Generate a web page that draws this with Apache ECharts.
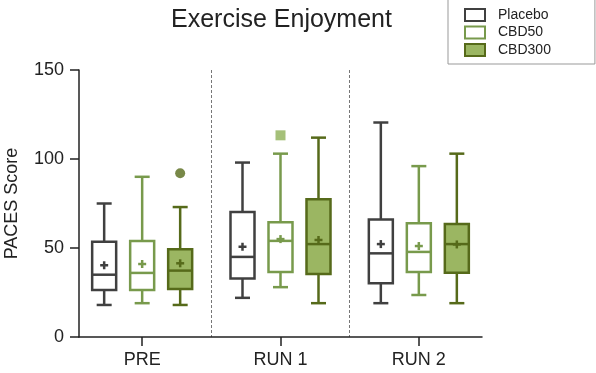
<!DOCTYPE html>
<html>
<head>
<meta charset="utf-8">
<script src="https://cdn.jsdelivr.net/npm/echarts@6/dist/echarts.min.js"></script>
<style>html,body{margin:0;padding:0;background:#fff}#c{width:596px;height:373px}</style>
</head>
<body>
<div id="c"></div>
<script>
// ---- data ----
const categories = ['PRE', 'RUN 1', 'RUN 2'];
const yTicks = [0, 50, 100, 150];
// [min, Q1, median, Q3, max] per category
const placeboBox = [[18, 26.4, 35, 53.5, 75], [22, 32.8, 45, 70.2, 98], [19, 30.2, 47, 66, 120.5]];
const cbd50Box   = [[19, 26.4, 36, 54, 90],   [28, 36.5, 54, 64.4, 103], [23.6, 36.5, 47.8, 63.9, 96]];
const cbd300Box  = [[18, 27, 37.3, 49.3, 73], [19, 35.4, 52.2, 77.4, 112], [19, 36.1, 52.2, 63.5, 103]];
const placeboMean = [40.3, 50.7, 52.2];
const cbd50Mean   = [41, 55, 51.1];
const cbd300Mean  = [41.4, 54.5, 52];
const cbd50Outliers  = [[1, 113.3]];
const cbd300Outliers = [[0, 92]];

const FONT = "'Liberation Sans', Arial, sans-serif";
const TXT = '#222';

function buildData(box, mean) {
  return box.map((b, i) => [i].concat(b).concat([mean[i]]));
}

function boxRender(offset, stroke, fill) {
  return function (params, api) {
    const i = api.value(0);
    const cx = api.coord([i, 0])[0] + offset;
    const y = k => api.coord([i, api.value(k)])[1];
    const yMin = y(1), yQ1 = y(2), yMed = y(3), yQ3 = y(4), yMax = y(5), yMean = y(6);
    const hw = 12, cw = 7.5, pw = 4;
    const ls = { stroke: stroke, lineWidth: 2.5, fill: null };
    return {
      type: 'group',
      children: [
        { type: 'line', shape: { x1: cx, y1: yMax, x2: cx, y2: yQ3 }, style: ls },
        { type: 'line', shape: { x1: cx, y1: yQ1, x2: cx, y2: yMin }, style: ls },
        { type: 'line', shape: { x1: cx - cw, y1: yMax, x2: cx + cw, y2: yMax }, style: ls },
        { type: 'line', shape: { x1: cx - cw, y1: yMin, x2: cx + cw, y2: yMin }, style: ls },
        { type: 'rect', shape: { x: cx - hw, y: yQ3, width: hw * 2, height: yQ1 - yQ3 },
          style: { stroke: stroke, lineWidth: 2.5, fill: fill } },
        { type: 'line', shape: { x1: cx - hw, y1: yMed, x2: cx + hw, y2: yMed }, style: ls },
        { type: 'line', shape: { x1: cx - pw, y1: yMean, x2: cx + pw, y2: yMean }, style: ls },
        { type: 'line', shape: { x1: cx, y1: yMean - pw, x2: cx, y2: yMean + pw }, style: ls }
      ]
    };
  };
}

const C_PLA = '#404040', C_50 = '#789a4c', C_300 = '#566a1a', F_300 = '#9bb662', C_SQ = '#8fb058';

const chart = echarts.init(document.getElementById('c'), null, { renderer: 'canvas' });
chart.setOption({
  animation: false,
  textStyle: { fontFamily: FONT },
  title: {
    text: 'Exercise Enjoyment', left: 171, top: 8, padding: 0,
    textStyle: { fontFamily: FONT, fontSize: 25, fontWeight: 'normal', color: TXT }
  },
  legend: {
    orient: 'vertical', left: 448, top: -2,
    padding: [9, 44, 6, 16],
    borderColor: '#999', borderWidth: 1,
    itemWidth: 20, itemHeight: 12, itemGap: 1.5,
    textStyle: { fontFamily: FONT, fontSize: 14, color: TXT, lineHeight: 16, padding: [0, 0, 0, 8] },
    data: [
      { name: 'Placebo', icon: 'rect', itemStyle: { color: '#fff', borderColor: C_PLA, borderWidth: 2 } },
      { name: 'CBD50', icon: 'rect', itemStyle: { color: '#fff', borderColor: C_50, borderWidth: 2 } },
      { name: 'CBD300', icon: 'rect', itemStyle: { color: F_300, borderColor: C_300, borderWidth: 2 } }
    ]
  },
  grid: [
    { left: 73, right: 108, top: 70, bottom: 36, outerBoundsMode: 'none', containLabel: false },
    { left: 79, right: 114, top: 70, bottom: 36, outerBoundsMode: 'none', containLabel: false }
  ],
  xAxis: [
    {
      gridIndex: 0, type: 'category', data: categories, boundaryGap: true,
      axisLine: { show: false },
      axisTick: { show: true, alignWithLabel: true, length: 9, lineStyle: { color: TXT, width: 1.5 } },
      axisLabel: { fontFamily: FONT, fontSize: 18, color: TXT, margin: 14 },
      splitLine: { show: true, showMinLine: false, showMaxLine: false,
        lineStyle: { type: [3, 2], color: '#777', width: 1 } }
    },
    {
      gridIndex: 1, type: 'value', min: 0, max: 1,
      axisLine: { show: true, lineStyle: { color: TXT, width: 1.5 } },
      axisTick: { show: false }, axisLabel: { show: false }, splitLine: { show: false }
    }
  ],
  yAxis: [
    { gridIndex: 0, type: 'value', min: 0, max: 150, show: false, splitLine: { show: false } },
    {
      gridIndex: 1, type: 'value', min: yTicks[0], max: yTicks[yTicks.length - 1], interval: 50,
      name: 'PACES Score', nameLocation: 'middle', nameGap: 58,
      nameTextStyle: { fontFamily: FONT, fontSize: 18, color: TXT },
      axisLine: { show: true, lineStyle: { color: TXT, width: 1.5 } },
      axisTick: { show: true, length: 9, lineStyle: { color: TXT, width: 1.5 } },
      axisLabel: { fontFamily: FONT, fontSize: 18, color: TXT, margin: 15 },
      splitLine: { show: false }
    }
  ],
  series: [
    { name: 'Placebo', type: 'custom', xAxisIndex: 0, yAxisIndex: 0,
      renderItem: boxRender(-38, C_PLA, '#fff'), data: buildData(placeboBox, placeboMean),
      encode: { x: 0, y: [1, 2, 3, 4, 5, 6] } },
    { name: 'CBD50', type: 'custom', xAxisIndex: 0, yAxisIndex: 0,
      renderItem: boxRender(0, C_50, '#fff'), data: buildData(cbd50Box, cbd50Mean),
      encode: { x: 0, y: [1, 2, 3, 4, 5, 6] } },
    { name: 'CBD300', type: 'custom', xAxisIndex: 0, yAxisIndex: 0,
      renderItem: boxRender(38, C_300, F_300), data: buildData(cbd300Box, cbd300Mean),
      encode: { x: 0, y: [1, 2, 3, 4, 5, 6] } },
    { name: 'CBD50 outliers', type: 'scatter', xAxisIndex: 0, yAxisIndex: 0,
      symbol: 'rect', symbolSize: 10, itemStyle: { color: C_SQ }, data: cbd50Outliers },
    { name: 'CBD300 outliers', type: 'scatter', xAxisIndex: 0, yAxisIndex: 0,
      symbol: 'circle', symbolSize: 10, symbolOffset: [38, 0], itemStyle: { color: C_300 }, data: cbd300Outliers }
  ]
});
</script>
</body>
</html>
